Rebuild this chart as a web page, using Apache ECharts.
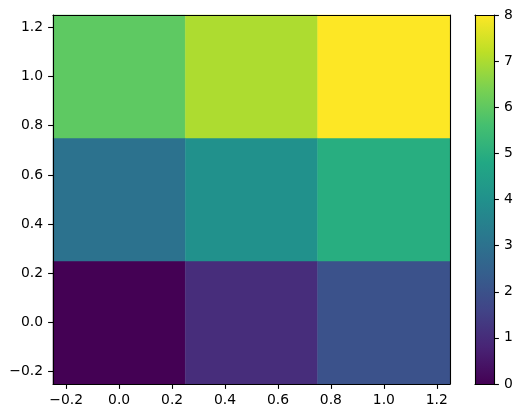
<!DOCTYPE html>
<html><head><meta charset="utf-8">
<script src="https://cdn.jsdelivr.net/npm/echarts@6/dist/echarts.min.js"></script>
<style>html,body{margin:0;padding:0;background:#fff}#c{width:521px;height:418px}</style>
</head><body><div id="c"></div>
<script>
// Data
const xCenters = [0, 0.5, 1];
const yCenters = [0, 0.5, 1];
const values = [ // rows by y (bottom to top), columns by x
  [0, 1, 2],
  [3, 4, 5],
  [6, 7, 8]
];
const xTicks = [-0.2, 0, 0.2, 0.4, 0.6, 0.8, 1.0, 1.2];
const yTicks = [-0.2, 0, 0.2, 0.4, 0.6, 0.8, 1.0, 1.2];
const cbTicks = [0, 1, 2, 3, 4, 5, 6, 7, 8];
const vmin = 0, vmax = 8;

const viridis = ['#440154','#482475','#414487','#355f8d','#2a788e','#21918c','#22a884','#44bf70','#7ad151','#bddf26','#fde725'];
const viridis9 = ['#440154','#472d7b','#3b528b','#2c728e','#21918c','#28ae80','#5ec962','#addc30','#fde725'];

const cellData = [];
yCenters.forEach((y, i) => xCenters.forEach((x, j) => cellData.push([x, y, values[i][j]])));

const font = {fontFamily: 'DejaVu Sans', fontSize: 13.9, color: '#000'};
const fmt = v => {
  const s = (Math.round(v * 10) / 10).toFixed(1);
  return s.replace('-', '\u2212');
};
const lineStyle = {color: '#000', width: 1.1};

function frameAxis(type, pos, gridIndex, min, max, extra) {
  return Object.assign({
    type: 'value', position: pos, gridIndex, min, max, z: 10,
    axisLine: {show: true, onZero: false, lineStyle},
    axisTick: {show: false}, axisLabel: {show: false}, splitLine: {show: false}
  }, extra || {});
}

const chart = echarts.init(document.getElementById('c'), null, {renderer: 'canvas'});
chart.setOption({
  animation: false,
  backgroundColor: '#fff',
  grid: [
    {left: 53, top: 15, width: 397, height: 369},
    {left: 475, top: 15, width: 19, height: 369}
  ],
  xAxis: [
    frameAxis('x', 'bottom', 0, -0.25, 1.25, {
      axisTick: {show: true, length: 4.9, inside: false, lineStyle, customValues: xTicks},
      axisLabel: Object.assign({show: true, margin: 9, formatter: fmt, customValues: xTicks}, font)
    }),
    frameAxis('x', 'top', 0, -0.25, 1.25),
    frameAxis('x', 'bottom', 1, 0, 1),
    frameAxis('x', 'top', 1, 0, 1)
  ],
  yAxis: [
    frameAxis('y', 'left', 0, -0.25, 1.25, {
      axisTick: {show: true, length: 4.9, lineStyle, customValues: yTicks},
      axisLabel: Object.assign({show: true, margin: 10, formatter: fmt, customValues: yTicks}, font)
    }),
    frameAxis('y', 'right', 0, -0.25, 1.25),
    frameAxis('y', 'right', 1, vmin, vmax, {
      interval: 1,
      axisTick: {show: true, length: 4.9, lineStyle},
      axisLabel: Object.assign({show: true, margin: 10}, font)
    }),
    frameAxis('y', 'left', 1, vmin, vmax)
  ],
  series: [
    {
      type: 'custom', xAxisIndex: 0, yAxisIndex: 0, z: 2,
      data: cellData,
      renderItem: function (params, api) {
        const x = api.value(0), y = api.value(1), v = api.value(2);
        const p1 = api.coord([x - 0.25, y + 0.25]);
        const p2 = api.coord([x + 0.25, y - 0.25]);
        const idx = Math.round((v - vmin) / (vmax - vmin) * 8);
        return {
          type: 'rect',
          shape: {x: p1[0], y: p1[1], width: p2[0] - p1[0], height: p2[1] - p1[1]},
          style: {fill: viridis9[idx], stroke: viridis9[idx], lineWidth: 0.5}
        };
      }
    },
    {
      type: 'custom', xAxisIndex: 2, yAxisIndex: 2, z: 2,
      data: [[0, vmin, 1, vmax]],
      renderItem: function (params, api) {
        const p1 = api.coord([api.value(0), api.value(3)]);
        const p2 = api.coord([api.value(2), api.value(1)]);
        const stops = viridis.map((c, i) => ({offset: i / (viridis.length - 1), color: c}));
        return {
          type: 'rect',
          shape: {x: p1[0], y: p1[1], width: p2[0] - p1[0], height: p2[1] - p1[1]},
          style: {fill: new echarts.graphic.LinearGradient(0, 1, 0, 0, stops)}
        };
      }
    }
  ]
});
</script></body></html>
